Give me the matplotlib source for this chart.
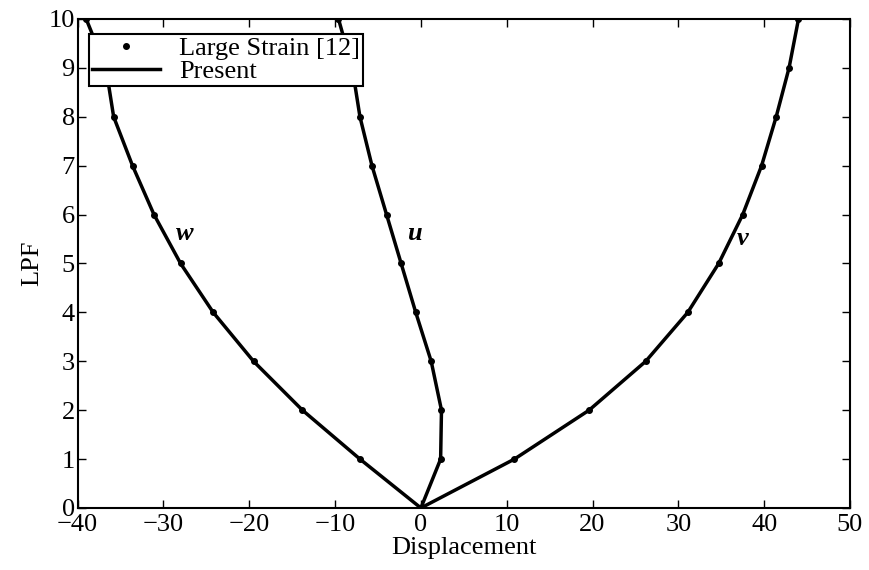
""" plot.py """

import matplotlib
matplotlib.use("Agg")
import matplotlib.pyplot as plt

plt.rcParams['font.family'] = ['Liberation Serif', 'DejaVu Serif']
plt.rcParams['mathtext.fontset'] = 'custom'
plt.rcParams['mathtext.it'] = 'Liberation Serif:italic:bold'

# load parameter factor levels
lpf = [0, 1, 2, 3, 4, 5, 6, 7, 8, 9, 10]

# displacement components
w = [0, -7.1, -13.8, -19.5, -24.2, -28.0, -31.1, -33.6, -35.8, -36.7, -39.0]
u = [0, 2.3, 2.4, 1.2, -0.6, -2.3, -4.0, -5.7, -7.1, -8.0, -9.6]
v = [0, 10.9, 19.6, 26.2, 31.1, 34.7, 37.5, 39.7, 41.4, 42.9, 44.0]

xticks = [-40, -30, -20, -10, 0, 10, 20, 30, 40, 50]
yticks = [0, 1, 2, 3, 4, 5, 6, 7, 8, 9, 10]

fig = plt.figure(figsize=(8.7, 5.7), dpi=100)
ax = fig.add_axes([0.0892, 0.1088, 0.8878, 0.8579])

# reference dots and present solution line
for i, d in enumerate([w, u, v]):
    ax.plot(d, lpf, 'k.', markersize=8, zorder=3,
            label='Large Strain [12]' if i == 0 else None)
    ax.plot(d, lpf, 'k-', linewidth=2.5, zorder=2,
            label='Present' if i == 0 else None)

ax.text(-27.5, 5.6, '$w$', fontsize=19, ha='center', va='center')
ax.text(-0.7, 5.6, '$u$', fontsize=19, ha='center', va='center')
ax.text(37.5, 5.5, '$v$', fontsize=19, ha='center', va='center')

ax.set_xlim(-40, 50)
ax.set_ylim(0, 10)
ax.set_xticks(xticks)
ax.set_yticks(yticks)
ax.tick_params(direction='in', top=True, right=True, length=6, width=1,
               labelsize=19)
ax.tick_params(axis='x', pad=4)
ax.tick_params(axis='y', pad=2)
for s in ax.spines.values():
    s.set_linewidth(1.5)

ax.set_xlabel('Displacement', fontsize=19, labelpad=1)
ax.set_ylabel('LPF', fontsize=19, labelpad=4)

leg = ax.legend(loc='upper left', bbox_to_anchor=(0.015, 0.97), fontsize=19,
                fancybox=False, framealpha=1, edgecolor='black',
                borderpad=0.1, labelspacing=0.0, handlelength=2.6,
                handletextpad=0.7, borderaxespad=0)
leg.get_frame().set_linewidth(1.5)

plt.savefig('out.png', dpi=100)
